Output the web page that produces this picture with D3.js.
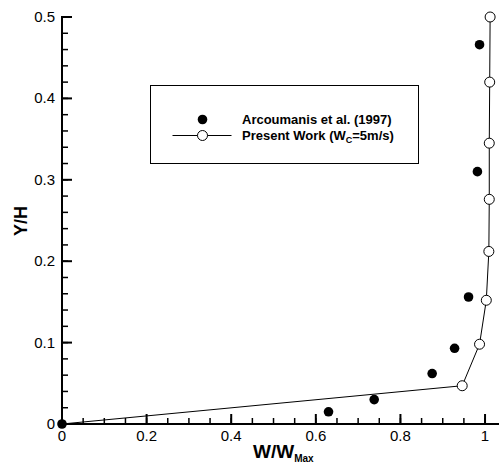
<!DOCTYPE html>
<html>
<head>
<meta charset="utf-8">
<script src="https://cdn.jsdelivr.net/npm/d3@7"></script>
<style>
body { margin: 0; background: #fff; }
text { font-family: "Liberation Sans", Arial, sans-serif; }
</style>
</head>
<body>
<script>
// Data
var expX = [0, 0.630, 0.738, 0.875, 0.928, 0.961, 0.982, 0.987]
var expY = [0, 0.015, 0.030, 0.062, 0.093, 0.156, 0.310, 0.466]
var simX = [0, 0.946, 0.987, 1.003, 1.009, 1.010, 1.010, 1.011, 1.012]
var simY = [0, 0.047, 0.098, 0.152, 0.212, 0.276, 0.345, 0.420, 0.500]
var xTicks = [0, 0.2, 0.4, 0.6, 0.8, 1]
var yTicks = [0, 0.1, 0.2, 0.3, 0.4, 0.5]

var w = 499, h = 468
var svg = d3.select('body').append('svg')
	.attr('width', w)
	.attr('height', h)

var xScale = d3.scaleLinear().domain([0, 1.033]).range([62, 499])
var yScale = d3.scaleLinear().domain([0, 0.5]).range([424, 17])

// x axis
var xMinor = d3.range(0, 1.0001, 0.05)
svg.selectAll('.xminor').data(xMinor).enter().append('line')
	.attr('x1', function (d) { return xScale(d) }).attr('x2', function (d) { return xScale(d) })
	.attr('y1', yScale(0)).attr('y2', yScale(0) - 6)
	.attr('stroke', '#000').attr('stroke-width', 1.5)
svg.selectAll('.xmajor').data(xTicks).enter().append('line')
	.attr('x1', function (d) { return xScale(d) }).attr('x2', function (d) { return xScale(d) })
	.attr('y1', yScale(0)).attr('y2', yScale(0) - 10)
	.attr('stroke', '#000').attr('stroke-width', 2)
svg.selectAll('.xlab').data(xTicks).enter().append('text')
	.attr('x', function (d) { return xScale(d) })
	.attr('y', 441)
	.attr('text-anchor', 'middle')
	.attr('font-size', 15)
	.text(function (d) { return d3.format('')(d) })

// y axis
var yMinor = d3.range(0, 0.5001, 0.02)
svg.selectAll('.yminor').data(yMinor).enter().append('line')
	.attr('y1', function (d) { return yScale(d) }).attr('y2', function (d) { return yScale(d) })
	.attr('x1', xScale(0)).attr('x2', xScale(0) + 6)
	.attr('stroke', '#000').attr('stroke-width', 1.5)
svg.selectAll('.ymajor').data(yTicks).enter().append('line')
	.attr('y1', function (d) { return yScale(d) }).attr('y2', function (d) { return yScale(d) })
	.attr('x1', xScale(0)).attr('x2', xScale(0) + 10)
	.attr('stroke', '#000').attr('stroke-width', 2)
svg.selectAll('.ylab').data(yTicks).enter().append('text')
	.attr('x', 55)
	.attr('y', function (d) { return yScale(d) + 5 })
	.attr('text-anchor', 'end')
	.attr('font-size', 15)
	.text(function (d) { return d3.format('')(d) })

svg.append('line')
	.attr('x1', xScale(0)).attr('x2', 499)
	.attr('y1', yScale(0)).attr('y2', yScale(0))
	.attr('stroke', '#000').attr('stroke-width', 2)
svg.append('line')
	.attr('x1', xScale(0)).attr('x2', xScale(0))
	.attr('y1', yScale(0) + 1).attr('y2', yScale(0.5) - 1)
	.attr('stroke', '#000').attr('stroke-width', 2)

// axis titles
var xt = svg.append('text')
	.attr('x', 253).attr('y', 458)
	.attr('font-weight', 'bold')
	.attr('font-size', 19)
xt.append('tspan').text('W/W')
xt.append('tspan').attr('dy', 4).attr('font-size', 10).text('Max')

svg.append('text')
	.attr('transform', 'translate(27,221) rotate(-90)')
	.attr('text-anchor', 'middle')
	.attr('font-weight', 'bold')
	.attr('font-size', 18)
	.text('Y/H')

// present work line + open circles
var simData = simX.map(function (x, i) { return [x, simY[i]] })
var line = d3.line()
	.x(function (d) { return xScale(d[0]) })
	.y(function (d) { return yScale(d[1]) })
svg.append('path')
	.datum(simData)
	.attr('d', line)
	.attr('fill', 'none')
	.attr('stroke', '#000')
	.attr('stroke-width', 1)
svg.selectAll('.sim').data(simData.slice(1)).enter().append('circle')
	.attr('cx', function (d) { return xScale(d[0]) })
	.attr('cy', function (d) { return yScale(d[1]) })
	.attr('r', 5)
	.attr('fill', '#fff')
	.attr('stroke', '#000')
	.attr('stroke-width', 1)

// experiment filled dots
var expData = expX.map(function (x, i) { return [x, expY[i]] })
svg.selectAll('.exp').data(expData).enter().append('circle')
	.attr('cx', function (d) { return xScale(d[0]) })
	.attr('cy', function (d) { return yScale(d[1]) })
	.attr('r', 4.8)
	.attr('fill', '#000')

// legend
var lg = svg.append('g')
lg.append('rect')
	.attr('x', 150.5).attr('y', 85.5)
	.attr('width', 268).attr('height', 78)
	.attr('fill', '#fff')
	.attr('stroke', '#000')
	.attr('stroke-width', 1)
lg.append('circle').attr('cx', 202.5).attr('cy', 119.5).attr('r', 4.8).attr('fill', '#000')
lg.append('line').attr('x1', 172.5).attr('x2', 231.5).attr('y1', 135.5).attr('y2', 135.5)
	.attr('stroke', '#000').attr('stroke-width', 1)
lg.append('circle').attr('cx', 202.5).attr('cy', 135.5).attr('r', 5)
	.attr('fill', '#fff').attr('stroke', '#000')
lg.append('text').attr('x', 242).attr('y', 124)
	.attr('font-weight', 'bold').attr('font-size', 13)
	.text('Arcoumanis et al. (1997)')
var t2 = lg.append('text').attr('x', 242).attr('y', 140)
	.attr('font-weight', 'bold').attr('font-size', 13)
t2.append('tspan').text('Present Work (W')
t2.append('tspan').attr('dy', 3).attr('font-size', 9).text('C')
t2.append('tspan').attr('dy', -3).text('=5m/s)')
</script>
</body>
</html>
